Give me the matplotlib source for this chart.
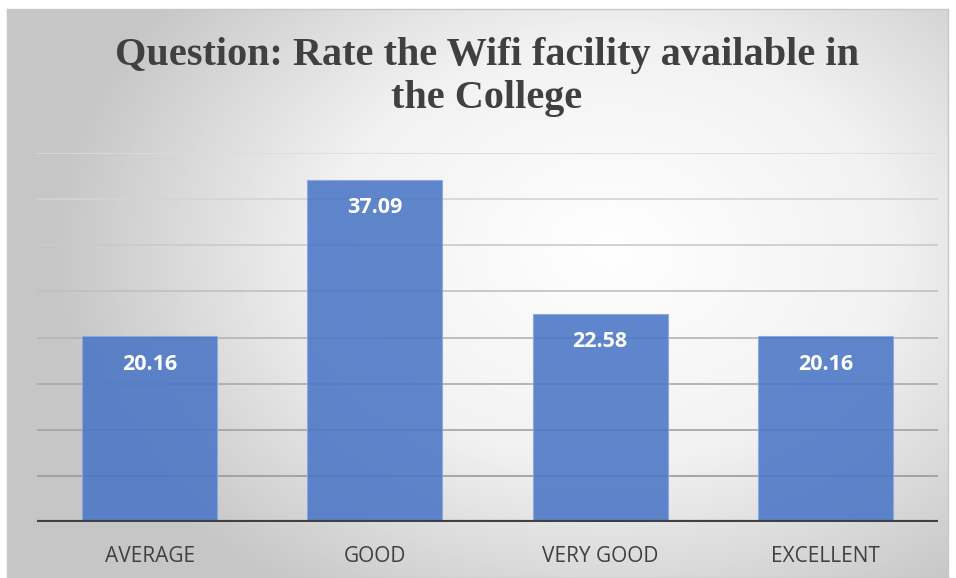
import numpy as np
import matplotlib
matplotlib.use("Agg")
import matplotlib.pyplot as plt
from matplotlib.colors import LinearSegmentedColormap

# chart data
categories = ["AVERAGE", "GOOD", "VERY GOOD", "EXCELLENT"]
values = [20.16, 37.09, 22.58, 20.16]
y_ticks = [0, 5, 10, 15, 20, 25, 30, 35, 40]
title_lines = ["Question: Rate the Wifi facility available in", "the College"]

W, H = 956, 578
fig = plt.figure(figsize=(W / 100, H / 100), dpi=100)
fig.patch.set_facecolor("white")

# chart area with radial grey gradient
x0, x1, ytop = 7, 948, 9
bg = fig.add_axes([x0 / W, 0, (x1 - x0) / W, (H - ytop) / H])
gx, gy = np.meshgrid(np.arange(x0, x1), np.arange(ytop, H))
r = np.sqrt(((gx - 610) / 560.0) ** 2 + ((gy - 250) / 420.0) ** 2)
r = np.clip(r, 0, 1)
grey = LinearSegmentedColormap.from_list("bg", ["#ffffff", "#f2f2f2", "#c6c6c6"])
bg.imshow(r, cmap=grey, vmin=0, vmax=1, aspect="auto", interpolation="bilinear")
bg.set_xticks([])
bg.set_yticks([])
for s in bg.spines.values():
    s.set_color("#c8c8c8")
    s.set_linewidth(1.0)

# plot area
ax = fig.add_axes([37 / W, (H - 522) / H, (938 - 37) / W, (522 - 153) / H])
ax.patch.set_alpha(0)
ax.set_ylim(0, 40)
ax.set_xlim(-0.5, len(categories) - 0.5)

# gridlines get darker towards the bottom
grid_cols = ["#9a9a9a", "#9a9a9a", "#a2a2a2", "#aaaaaa", "#b4b4b4",
             "#c0c0c0", "#cacaca", "#d4d4d4", "#dcdcdc"]
for t, c in zip(y_ticks[1:], grid_cols[1:]):
    ax.axhline(t, color=c, lw=1.2, zorder=1)

xpos = np.arange(len(categories))
bars = ax.bar(xpos, values, width=0.6, color="#4a76c6", alpha=0.88,
              edgecolor="#8aa8e0", linewidth=0.8, zorder=2)

for b, v in zip(bars, values):
    ax.annotate(f"{v:.2f}", (b.get_x() + b.get_width() / 2, v),
                xytext=(0, -28), textcoords="offset pixels",
                ha="center", va="center", color="white", fontsize=15.5,
                fontweight="bold", family="Open Sans", zorder=3)

ax.axhline(0, color="#404040", lw=3, zorder=4)
for s in ax.spines.values():
    s.set_visible(False)
ax.set_yticks([])
ax.set_xticks(xpos)
ax.set_xticklabels(categories, fontsize=15, color="#404040", family="Open Sans")
ax.tick_params(axis="x", length=0, pad=17)

# two-line title
for line, base in zip(title_lines, [65, 108]):
    fig.text(487 / W, 1 - base / H, line, ha="center", va="baseline",
             fontsize=29, fontweight="bold", color="#404040",
             family="Liberation Serif")

fig.savefig("out.png", dpi=100)
